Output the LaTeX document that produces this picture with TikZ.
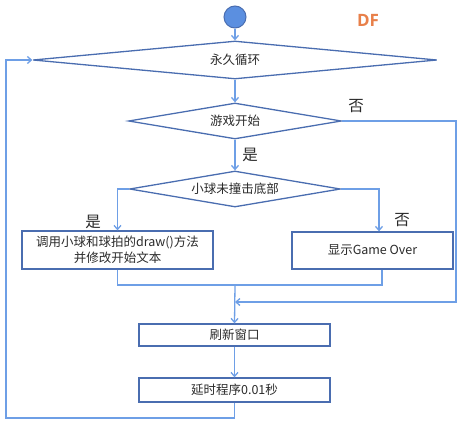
\documentclass[tikz,border=0pt]{standalone}
\usepackage{fontspec}
\setmainfont{Noto Sans CJK SC}
\newfontfamily\dffont{Open Sans}
\usetikzlibrary{shapes.geometric,arrows.meta}
\definecolor{shapeblue}{HTML}{4A6DB0}
\definecolor{linkblue}{HTML}{6E9FE6}
\definecolor{circfill}{HTML}{5B8FE0}
\definecolor{txt}{HTML}{2A2A2A}
\definecolor{dforange}{HTML}{E8804A}
\tikzset{
  dec/.style={diamond, draw=shapeblue, line width=1.3pt, inner sep=0pt, aspect=10, font=\fontsize{12.5}{14}\selectfont, text=txt},
  procbox/.style={rectangle, draw=shapeblue, line width=1.3pt, inner sep=0pt, font=\fontsize{12.5}{16}\selectfont, text=txt, align=center},
  link/.style={draw=linkblue, line width=1.3pt},
  arr/.style={link, -{Straight Barb[length=4pt,width=7pt]}},
  lab/.style={font=\fontsize{15.5}{16}\selectfont, text=txt}
}
\begin{document}
\begin{tikzpicture}[x=1pt,y=-1pt]
\useasboundingbox (0,0) rectangle (465,434);
\node[circle, draw=shapeblue, fill=circfill, line width=1pt, minimum size=22pt, inner sep=0pt] (start) at (235,17) {};
\node[font=\dffont\bfseries\fontsize{17}{17}\selectfont, text=dforange] (df) at (368,20) {DF};
\node[dec, minimum width=404pt, minimum height=38pt] (d1) at (235,60) {永久循环};
\node[dec, minimum width=213pt, minimum height=36pt] (d2) at (235,121) {游戏开始};
\node[dec, minimum width=211pt, minimum height=36pt] (d3) at (235,189) {小球未撞击底部};
\node[procbox, minimum width=191pt, minimum height=38pt] (bl) at (117.5,250) {调用小球和球拍的draw()方法\\并修改开始文本};
\node[procbox, minimum width=161pt, minimum height=37pt] (br) at (372.5,250.5) {显示Game Over};
\node[procbox, minimum width=191pt, minimum height=22pt] (refresh) at (234.5,335) {刷新窗口};
\node[procbox, minimum width=191pt, minimum height=24pt] (delay) at (234.5,390) {延时程序0.01秒};
\coordinate (rx) at (379,0);
\coordinate (rx2) at (382,0);
\coordinate (m) at (235,285);
\coordinate (j) at (235,302);
\coordinate (rr) at (456,302);
\coordinate (lb) at (6,418);
\node[lab] (no1) at (356,106) {否};
\node[lab] (yes1) at (250,155) {是};
\node[lab] (yes2) at (93,222) {是};
\node[lab] (no2) at (402,220) {否};
\draw[arr] (start) -- (d1.north);
\draw[arr] (d1.south) -- (d2.north);
\draw[arr] (d2.south) -- (d3.north);
\draw[arr] (d3.west) -| (bl.north);
\draw[arr] (d3.east) -| (rx |- br.north);
\draw[link] (bl.south) |- (m) -| (rx2 |- br.south);
\draw[arr] (m) -- (refresh.north);
\draw[arr] (d2.east) -| (rr) -- (j);
\draw[arr] (refresh.south) -- (delay.north);
\draw[arr] (delay.south) |- (lb) |- (d1.west);
\end{tikzpicture}
\end{document}
